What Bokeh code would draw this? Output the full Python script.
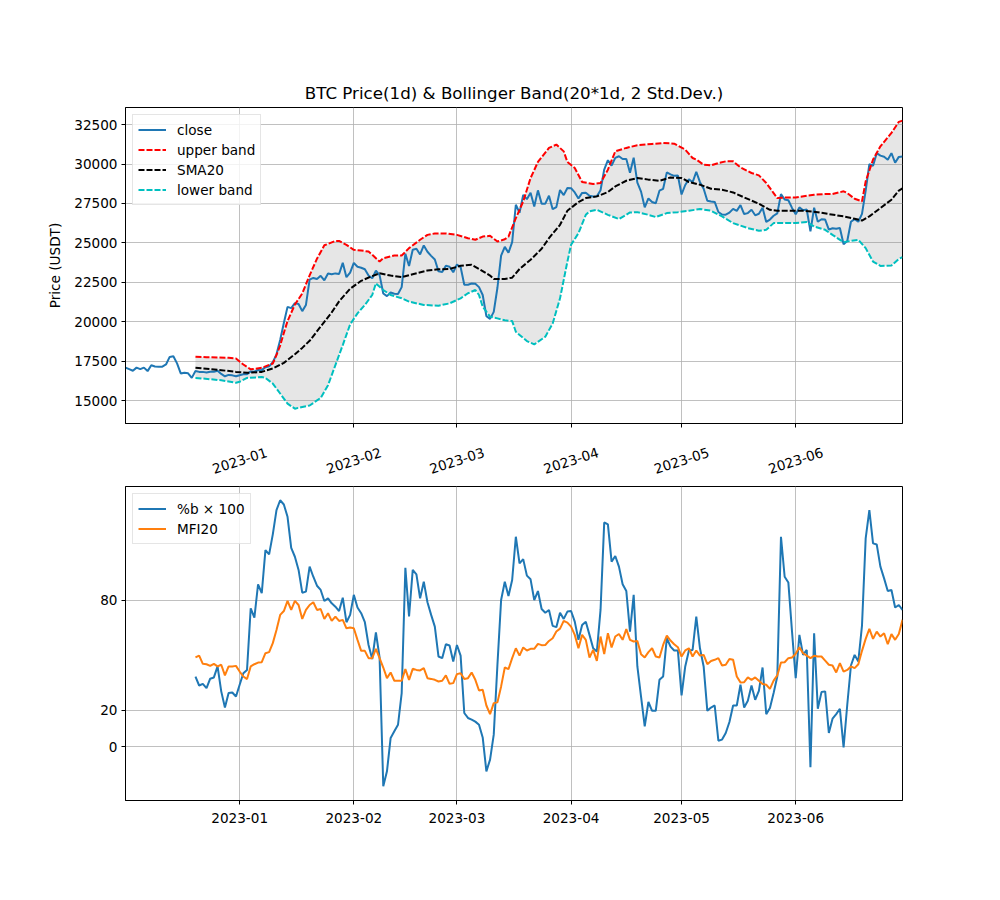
import math
import numpy as np
import pandas as pd
from bokeh.plotting import figure
from bokeh.layouts import column
from bokeh.models import (FixedTicker, DatetimeTickFormatter, Range1d,
                          CustomJSTickFormatter)
from bokeh.core.properties import value
from bokeh.embed import file_html
from bokeh.resources import INLINE

# ---------------- data ----------------
dates = pd.date_range("2022-12-01", "2023-06-30", freq="D")

close = [
    17100, 17000, 16900, 17100, 17000, 17100, 16880, 17250, 17170, 17150,
    17160, 17300, 17780, 17820, 17370, 16730, 16780, 16740, 16450, 16880,
    16830, 16830, 16790, 16840, 16840, 16900, 16700, 16550, 16640, 16610,
    16550,
    16620, 16680, 16680, 16860, 16840, 16950, 16940, 17130, 17180, 17440,
    17940, 18850, 19930, 20950, 20870, 21180, 21130, 20680, 21070, 22670,
    22780, 22710, 22920, 22630, 23060, 23010, 23070, 23030, 23740, 22830,
    23120,
    23730, 23490, 23430, 23330, 22930, 22760, 23240, 22960, 21800, 21630,
    21860, 21780, 21770, 22200, 24320, 23540, 24570, 24630, 24270, 24840,
    24440, 24180, 23950, 23200, 23160, 23550, 23490, 23140,
    23630, 23470, 22350, 22350, 22430, 22410, 22200, 21700, 20360, 20190,
    20630, 22160, 24200, 24750, 24380, 25050, 27420, 26910, 28040, 27770,
    28180, 27310, 28330, 27490, 27490, 27990, 27140, 27270, 28350, 28030,
    28480,
    28470, 28200, 27810, 28170, 28180, 27990, 27940, 27950, 28340, 29650,
    30240, 29900, 30390, 30490, 30320, 30320, 29450, 30400, 28820, 28250,
    27260, 27820, 27590, 27510, 28310, 28430, 29470, 29340, 29250, 29270,
    28070, 28670, 29030, 28840, 29510, 28850, 28430, 27670, 27630, 27600,
    26960, 26800, 26790, 26920, 27160, 27030, 27400, 26830, 26890, 27100,
    26750, 26850, 27230, 26330, 26480, 26720, 26870, 28090, 27750, 27700,
    27220,
    26820, 27250, 27070, 27120, 25730, 27230, 26340, 26500, 26480, 25840,
    25930, 25900, 25950, 24920, 25120, 26340, 26510, 26340, 26840, 28310,
    29990, 29890, 30690, 30530, 30460, 30270, 30690, 30080, 30450, 30470,
]

upper_day = [19, 22, 25, 28, 30, 32, 34, 37, 40, 41, 42, 43, 44, 46, 48, 50, 52, 54, 57, 58,
             60, 62, 64, 66, 67, 69, 70, 73, 75, 77, 80, 82, 84, 87, 90, 93, 95, 97, 99, 101,
             103, 104, 106, 108, 110, 112, 115, 117, 119, 120, 122, 124, 127, 129, 131, 133, 136, 139, 143, 146,
             149, 152, 154, 155, 157, 159, 161, 163, 165, 167, 170, 172, 174, 176, 177, 179, 182, 185, 187, 190,
             192, 195, 196, 198, 200, 201, 203, 205, 208, 210, 211]
upper = [17790, 17760, 17740, 17720, 17680, 17300, 16990, 17090, 17360, 17900, 18500, 19300, 20050, 21100, 21800, 22950, 24000, 24850, 25130, 25130,
         24880, 24560, 24520, 24450, 24250, 23820, 24030, 24200, 24200, 24670, 25200, 25510, 25600, 25600, 25510, 25300, 25200, 25400, 25450, 25090,
         25230, 25400, 26570, 27630, 29110, 30130, 31020, 31230, 30800, 30130, 29750, 28860, 28730, 28800, 29640, 30800, 31020, 31190, 31270, 31330,
         31290, 30910, 30380, 30280, 29960, 29920, 30060, 30170, 30170, 29790, 29430, 29280, 28800, 28160, 27840, 27880, 27880, 27990, 28050, 28100,
         28100, 28270, 28160, 27800, 27630, 28900, 30280, 31120, 31970, 32670, 32750]

sma_day = [19, 26, 30, 33, 37, 40, 43, 46, 48, 50, 53, 56, 58, 61, 64, 67, 69, 72, 75, 78,
           82, 85, 88, 91, 94, 96, 99, 100, 103, 105, 107, 110, 113, 115, 118, 120, 123, 125, 128, 131,
           133, 136, 139, 142, 145, 148, 151, 153, 156, 159, 162, 165, 168, 172, 175, 177, 181, 184, 188, 191,
           195, 198, 200, 202, 205, 208, 210, 211]
sma = [17090, 16940, 16830, 16770, 16830, 17050, 17400, 17950, 18350, 18800, 19700, 20600, 21300, 22100, 22600, 22900, 23080, 22930, 22830, 23020,
       23250, 23330, 23350, 23550, 23610, 23350, 22930, 22720, 22720, 22800, 23350, 23930, 24630, 25300, 26150, 27040, 27590, 27840, 27950, 28220,
       28580, 28940, 29110, 29010, 28940, 29150, 29110, 28860, 28690, 28435, 28370, 28200, 27885, 27480, 27100, 27040, 27040, 27040, 26950, 26830,
       26680, 26530, 26420, 26680, 27210, 27740, 28310, 28450]

lower_day = [19, 26, 30, 31, 33, 37, 38, 40, 42, 44, 46, 48, 50, 53, 55, 57, 59, 61, 63, 65,
             67, 68, 70, 72, 75, 77, 81, 85, 88, 91, 93, 95, 96, 97, 99, 101, 103, 105, 106, 109,
             111, 114, 116, 118, 120, 121, 123, 125, 126, 128, 131, 134, 137, 139, 142, 144, 147, 150, 153, 156,
             159, 162, 165, 169, 172, 174, 176, 179, 182, 185, 187, 190, 192, 195, 197, 199, 201, 203, 205, 208,
             210, 211]
lower = [16450, 16300, 16140, 16200, 16450, 16500, 16450, 16090, 15460, 14820, 14500, 14610, 14700, 15180, 15990, 17260, 18530, 19840, 20540, 21070,
         21700, 22440, 22020, 21700, 21490, 21280, 21070, 21025, 21170, 21490, 21810, 22020, 21700, 20960, 20330, 20220, 20100, 20050, 19370, 18780,
         18570, 19060, 19900, 21490, 23820, 24880, 25620, 26780, 27000, 27100, 26780, 26510, 26930, 26950, 26780, 26640, 26890, 26950, 27040, 27150,
         27040, 26680, 26255, 25940, 25770, 25830, 26255, 26255, 26255, 26320, 26040, 25830, 25510, 25050, 25130, 25200, 24670, 23820, 23545, 23570,
         23990, 24100]

ind_first_day = 19
pctb = [
    38.4, 33.5, 34.4, 32.1, 37.2, 37.9, 43.9, 30.3, 21.5, 29.4,
    29.7, 27.5, 33.9, 40.2, 42.0, 75.6, 70.5, 88.7, 83.8, 107.3,
    105.0, 115.9, 129.1, 134.5, 132.2, 125.5, 108.6, 103.7, 96.5, 84.1,
    84.7, 98.3,
    92.8, 87.9, 85.6, 79.6, 81.0, 78.3, 76.5, 74.1, 81.4, 68.0,
    72.0, 82.9, 76.0, 72.9, 68.0, 55.6, 47.9, 62.4, 48.8, -21.4,
    -13.3, 4.9, 8.5, 12.1, 29.4, 97.7, 71.1, 96.5, 94.1, 81.0,
    90.1, 78.9, 72.0, 65.6, 49.3, 48.4, 56.0, 55.3, 46.6, 55.6,
    49.8, 18.5, 15.8, 14.9, 13.8, 12.1, 5.2, -13.3, -6.9, 6.7,
    44.8,
    80.1, 90.1, 82.3, 91.0, 114.6, 100.1, 102.4, 93.4, 91.4, 80.1,
    85.0, 75.2, 73.2, 74.7, 66.0, 65.3, 73.2, 69.8, 73.8, 74.1,
    68.3, 58.4, 66.5, 68.3, 61.1, 53.8, 52.0, 74.7, 122.4, 121.3,
    101.0, 104.1, 98.3, 88.7, 85.0, 62.9, 82.9, 43.9, 27.5, 11.2,
    24.5, 19.7, 19.7, 36.6, 38.4, 59.3, 54.7, 52.6, 52.6, 28.1,
    43.9, 52.6, 52.9, 71.1,
    53.8, 43.9, 19.7, 21.5, 22.6, 3.4, 4.0, 7.6, 13.6, 22.6,
    22.6, 33.9, 21.5, 25.2, 33.5, 25.7, 30.6, 43.3, 17.9, 21.2,
    29.4, 38.4, 114.6, 92.8, 89.7, 62.9, 37.5, 61.1, 50.2, 52.9,
    -11.1, 62.0, 20.8, 29.9, 30.3, 7.6, 15.4, 17.9, 20.8, -0.2,
    23.0, 44.4, 50.2, 46.6, 66.2, 113.7, 129.1, 111.0, 110.4, 98.3,
    91.9, 85.0, 85.6, 76.0, 77.4, 74.7,
]
mfi = [
    48.8, 49.8, 45.3, 45.1, 44.2, 45.3, 43.9, 44.8, 39.0, 43.9,
    43.9, 44.2, 41.1, 38.4, 37.0, 43.9, 45.1, 46.0, 46.2, 51.1,
    51.7, 56.6, 63.8, 72.0, 74.1, 79.6, 74.7, 79.6, 77.4, 69.8,
    74.7, 77.4, 78.9, 74.7, 75.2,
    69.8, 72.9, 68.7, 71.1, 68.7, 69.3, 64.7, 65.1, 64.7, 58.4,
    52.4, 52.4, 48.4, 48.4, 53.5, 48.4, 43.3, 37.5, 40.6, 36.1,
    36.1, 36.1, 42.4, 36.6, 42.6, 42.0, 41.7, 43.0, 37.5, 37.1,
    36.6, 35.7, 36.1, 39.0, 34.4, 34.8, 39.7, 40.2, 37.1, 37.5,
    40.6, 36.6, 30.8, 31.2, 22.6, 17.9, 23.9, 24.3,
    33.0, 43.3, 42.4, 48.4, 53.8, 49.8, 54.2, 52.6, 53.5, 53.5,
    56.2, 55.5, 55.6, 57.8, 59.3, 62.9, 64.5, 68.7, 67.8, 65.6,
    61.1, 53.8, 61.1, 58.4, 48.8, 52.9, 46.9, 60.2, 50.6, 62.0,
    54.2, 60.2, 61.6, 58.4, 64.2, 58.4, 57.5, 57.8, 50.6, 48.8,
    51.7, 53.8, 49.3, 48.8, 55.6, 60.7, 58.0, 56.0, 54.4, 49.3,
    52.6, 53.8, 49.3, 52.6,
    49.8, 50.2, 45.1, 46.9, 47.5, 48.4, 44.4, 44.8, 48.0, 47.5,
    38.4, 35.2, 35.3, 37.9, 36.6, 37.9, 36.1, 34.3, 33.9, 31.7,
    36.2, 39.0, 46.0, 46.2, 48.4, 48.8, 50.8, 54.4, 51.1, 49.8,
    48.4, 49.7, 49.3, 49.3, 47.1, 44.8, 44.4, 40.6, 45.7, 41.1,
    42.0, 43.9, 43.0, 45.1, 52.4, 58.9, 64.4, 58.9, 62.9, 60.2,
    62.0, 56.0, 61.5, 58.4, 61.6, 69.3,
]

price_ticks = [15000, 17500, 20000, 22500, 25000, 27500, 30000, 32500]
ind_ticks = [0, 20, 80]
month_ticks = pd.date_range("2023-01-01", "2023-06-01", freq="MS")
month_labels = [t.strftime("%Y-%m") for t in month_ticks]

# ---------------- helpers ----------------
FONT = "DejaVu Sans"
TICK_PX = "13.6px"
d = dates.to_numpy()
ind_dates = d[ind_first_day:ind_first_day + len(pctb)]
tick_ms = [t.timestamp() * 1000.0 for t in month_ticks]
fmt = DatetimeTickFormatter(days="%Y-%m", months="%Y-%m", years="%Y-%m",
                            hours="%Y-%m", minutes="%Y-%m", seconds="%Y-%m",
                            milliseconds="%Y-%m", microseconds="%Y-%m")
x_range = Range1d(start=d[0], end=d[-1])


def style(p):
    p.outline_line_color = "black"
    p.outline_line_width = 1
    p.grid.grid_line_color = "#b0b0b0"
    p.grid.grid_line_width = 0.8
    for ax in (p.xaxis[0], p.yaxis[0]):
        ax.axis_line_color = "black"
        ax.major_tick_line_color = "black"
        ax.major_tick_out = 4
        ax.major_tick_in = 0
        ax.minor_tick_out = 0
        ax.minor_tick_in = 0
        ax.major_label_text_font = FONT
        ax.major_label_text_font_size = TICK_PX
        ax.major_label_text_color = "black"
        ax.major_label_standoff = 4
    p.xaxis[0].ticker = FixedTicker(ticks=tick_ms)
    p.xaxis[0].formatter = fmt
    p.xaxis[0].major_label_standoff = 8


def style_legend(p):
    lg = p.legend[0]
    lg.location = "top_left"
    lg.margin = 7
    lg.padding = 5
    lg.spacing = 1
    lg.label_height = 19
    lg.glyph_height = 19
    lg.glyph_width = 28
    lg.label_standoff = 11
    lg.label_text_font = FONT
    lg.label_text_font_size = TICK_PX
    lg.label_text_color = "black"
    lg.border_line_color = "#cccccc"
    lg.border_line_width = 1
    lg.background_fill_alpha = 0.8


# ---------------- top: price + bands ----------------
p1 = figure(x_axis_type="datetime", x_range=x_range, y_range=Range1d(13560, 33580),
            frame_width=777, frame_height=316,
            min_border_left=125, min_border_right=90, min_border_top=107, min_border_bottom=10,
            output_backend="svg", toolbar_location=None,
            title="BTC Price(1d) & Bollinger Band(20*1d, 2 Std.Dev.)")
p1.title.align = "center"
p1.title.text_font = FONT
p1.title.text_font_size = "16.7px"
p1.title.text_font_style = "normal"
p1.title.text_color = "black"
style(p1)
p1.yaxis[0].ticker = FixedTicker(ticks=price_ticks)
p1.yaxis[0].axis_label = "Price (USDT)"
p1.yaxis[0].axis_label_text_font = FONT
p1.yaxis[0].axis_label_text_font_size = TICK_PX
p1.yaxis[0].axis_label_text_font_style = "normal"
p1.yaxis[0].axis_label_text_color = "black"
p1.yaxis[0].axis_label_standoff = 8
# month labels of the upper panel are drawn rotated in the strip below
p1.xaxis[0].formatter = CustomJSTickFormatter(code="return '';")
p1.xaxis[0].major_label_text_font_size = "0px"
p1.xaxis[0].major_label_standoff = 0

band_x = np.concatenate([d[upper_day], d[lower_day][::-1]])
band_y = list(upper) + list(lower[::-1])
p1.patch(band_x, band_y, fill_color="grey", fill_alpha=0.2, line_color=None)

p1.line(d, close, line_color="#1f77b4", line_width=2, legend_label="close")
p1.line(d[upper_day], upper, line_color="red", line_width=2, line_dash="6 2", legend_label="upper band")
p1.line(d[sma_day], sma, line_color="black", line_width=2, line_dash="6 2", legend_label="SMA20")
p1.line(d[lower_day], lower, line_color="#00bfbf", line_width=2, line_dash="6 2", legend_label="lower band")
style_legend(p1)

# ---------------- strip with rotated month labels (matplotlib style) ----------------
STRIP_H = 53
strip = figure(x_axis_type="datetime", x_range=x_range, y_range=Range1d(0, STRIP_H),
               frame_width=777, frame_height=STRIP_H,
               min_border_left=125, min_border_right=90, min_border_top=0, min_border_bottom=0,
               x_axis_location=None, y_axis_location=None,
               output_backend="svg", toolbar_location=None)
strip.outline_line_color = None
strip.grid.visible = False
strip.text(x=tick_ms, y=[STRIP_H - 27] * len(tick_ms), text=month_labels,
           angle=math.radians(18), text_align="center", text_baseline="middle",
           text_font=value(FONT), text_font_size=TICK_PX, text_color="black")

# ---------------- bottom: %b and MFI ----------------
p2 = figure(x_axis_type="datetime", x_range=x_range, y_range=Range1d(-29.2, 142),
            frame_width=777, frame_height=314,
            min_border_left=125, min_border_right=90, min_border_top=0, min_border_bottom=50,
            output_backend="svg", toolbar_location=None)
style(p2)
p2.yaxis[0].ticker = FixedTicker(ticks=ind_ticks)
p2.line(ind_dates, pctb, line_color="#1f77b4", line_width=2, legend_label="%b \u00d7 100")
p2.line(ind_dates, mfi, line_color="#ff7f0e", line_width=2, legend_label="MFI20")
style_legend(p2)

layout = column(p1, strip, p2, spacing=0)
open("out.html", "w").write(file_html(layout, INLINE))
